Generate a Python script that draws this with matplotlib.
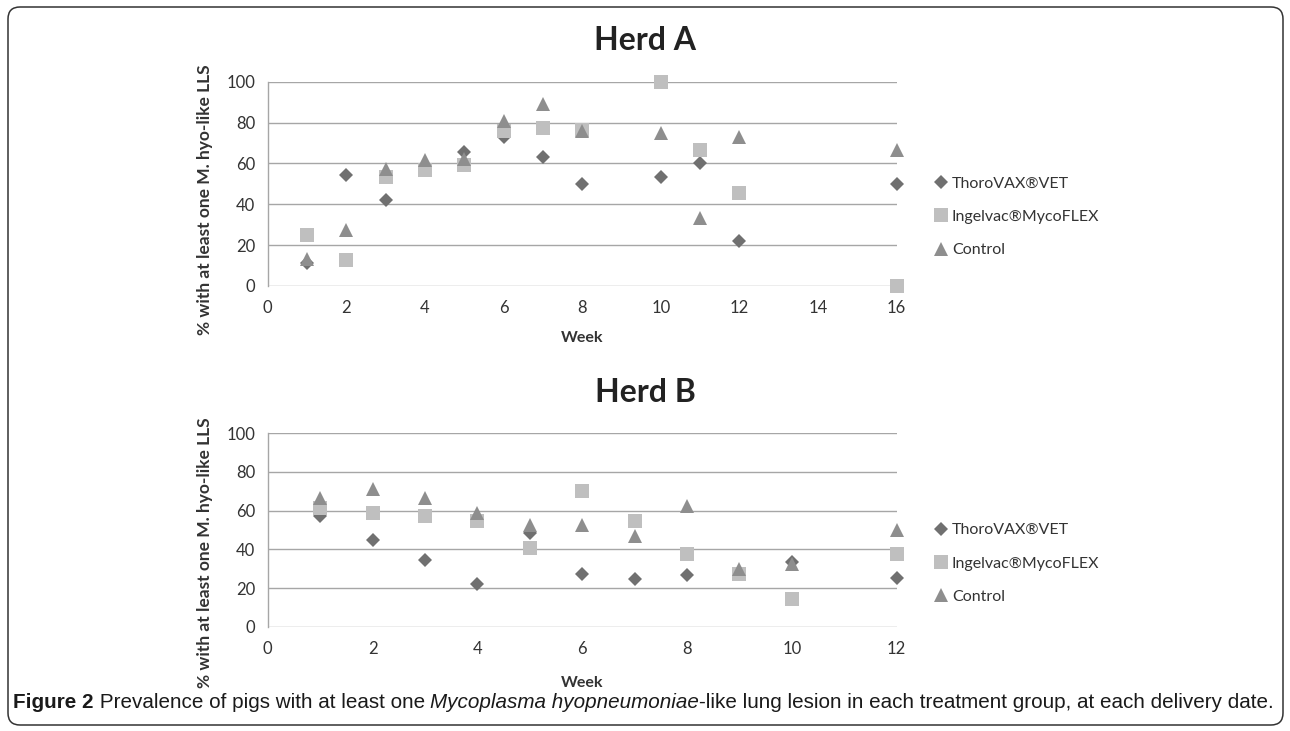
import matplotlib
matplotlib.use('Agg')
import matplotlib.pyplot as plt
from matplotlib import font_manager
from matplotlib.patches import FancyBboxPatch

# data
weeks_a = [1, 2, 3, 4, 5, 6, 7, 8, 10, 11, 12, 16]
thorovax_a = [11.5, 54.5, 42.3, 58, 65.5, 73, 63, 50, 53.5, 60, 22, 50]
ingelvac_a = [25, 12.5, 53.5, 57, 59, 76, 77.5, 76.5, 100, 66.7, 45.5, 0]
control_a = [13, 27.5, 57.5, 61.5, 62, 81, 89, 76, 75, 33.3, 73, 66.7]

weeks_b = [1, 2, 3, 4, 5, 6, 7, 8, 9, 10, 12]
thorovax_b = [57, 45, 34.5, 22, 48.5, 27.5, 24.5, 26.7, 28, 33.3, 25]
ingelvac_b = [61.5, 59, 57, 54.5, 40.5, 70, 54.5, 37.5, 27, 14.3, 37.5]
control_b = [66.5, 71, 66.5, 59, 52.5, 52.5, 47, 62.5, 30, 32.5, 50]

series_names = ['ThoroVAX®VET', 'Ingelvac®MycoFLEX', 'Control']
ylabel = '% with at least one M. hyo-like LLS'

W, H = 1290, 731
available = {f.name for f in font_manager.fontManager.ttflist}
chart_font = ['Lato', 'DejaVu Sans']
cap_font = 'Liberation Sans Narrow' if 'Liberation Sans Narrow' in available else 'Liberation Sans'

plt.rcParams['font.family'] = chart_font
fig = plt.figure(figsize=(W / 100, H / 100), dpi=100)

styles = [
    dict(marker='D', color='#707070', markersize=7.3),
    dict(marker='s', color='#bfbfbf', markersize=9.8),
    dict(marker='^', color='#8e8e8e', markersize=10.2),
]


def px_x(x):
    return x / W


def px_y(y):
    return 1 - y / H


def draw_panel(top, bottom, weeks, values, xmax, title, title_y, week_y, ylab_y, leg_y):
    ax = fig.add_axes([px_x(267.7), px_y(bottom), 629 / W, (bottom - top) / H])
    for vals, name, st in zip(values, series_names, styles):
        ax.plot(weeks, vals, linestyle='none', label=name, markeredgewidth=0,
                clip_on=False, **st)
    ax.set_xlim(0, xmax)
    ax.set_ylim(0, 100)
    ax.set_xticks(range(0, xmax + 1, 2))
    ax.set_yticks(range(0, 101, 20))
    ax.grid(axis='y', color='#a6a6a6', linewidth=1.0)
    ax.set_axisbelow(True)
    for s in ['top', 'right', 'bottom']:
        ax.spines[s].set_visible(False)
    ax.spines['left'].set_color('#a6a6a6')
    ax.spines['left'].set_linewidth(1.0)
    ax.tick_params(length=0, labelsize=12, colors='#333333')
    ax.tick_params(axis='x', pad=10)
    ax.tick_params(axis='y', pad=9)
    ax.legend(loc='center left', bbox_to_anchor=((935 - 267.7) / 629, leg_y),
              frameon=False, fontsize=11.5, handlelength=0.8, handletextpad=0.25,
              labelspacing=1.2, borderpad=0, borderaxespad=0, labelcolor='#333333')
    fig.text(0.5, px_y(title_y), title, ha='center', va='center', fontsize=23,
             fontweight='bold', color='#222222')
    fig.text(px_x(582), px_y(week_y), 'Week', ha='center', va='center', fontsize=11.5,
             fontweight='bold', color='#333333')
    fig.text(px_x(205), px_y(ylab_y), ylabel, ha='center', va='center', rotation=90,
             fontsize=12.5, fontweight='bold', color='#333333')
    return ax


draw_panel(81.7, 286, weeks_a, [thorovax_a, ingelvac_a, control_a], 16,
           'Herd A', 40, 338, 200, 0.338)
draw_panel(433.3, 626.7, weeks_b, [thorovax_b, ingelvac_b, control_b], 12,
           'Herd B', 392, 683, 553, 0.327)

# caption, built from pieces so the italic part sits inline
caption_parts = [
    ('Figure 2', 'normal', 'bold'),
    (' Prevalence of pigs with at least one ', 'normal', 'normal'),
    ('Mycoplasma hyopneumoniae', 'italic', 'normal'),
    ('-like lung lesion in each treatment group, at each delivery date.', 'normal', 'normal'),
]
renderer = fig.canvas.get_renderer()


def place_caption(size):
    texts = []
    x = 13
    for txt, style, weight in caption_parts:
        t = fig.text(px_x(x), px_y(702), txt, ha='left', va='center', fontsize=size,
                     fontstyle=style, fontweight=weight, family=cap_font, color='#1a1a1a')
        bb = t.get_window_extent(renderer)
        x = bb.x1
        texts.append(t)
    return texts, x - 13


texts, width = place_caption(14)
for t in texts:
    t.remove()
place_caption(14 * 1267 / width)

border = FancyBboxPatch((8, H - 725), 1275, 718, boxstyle='round,pad=0,rounding_size=12',
                        facecolor='none', edgecolor='#333333', linewidth=1.1, transform=None)
fig.add_artist(border)

fig.savefig('out.png', dpi=100)
